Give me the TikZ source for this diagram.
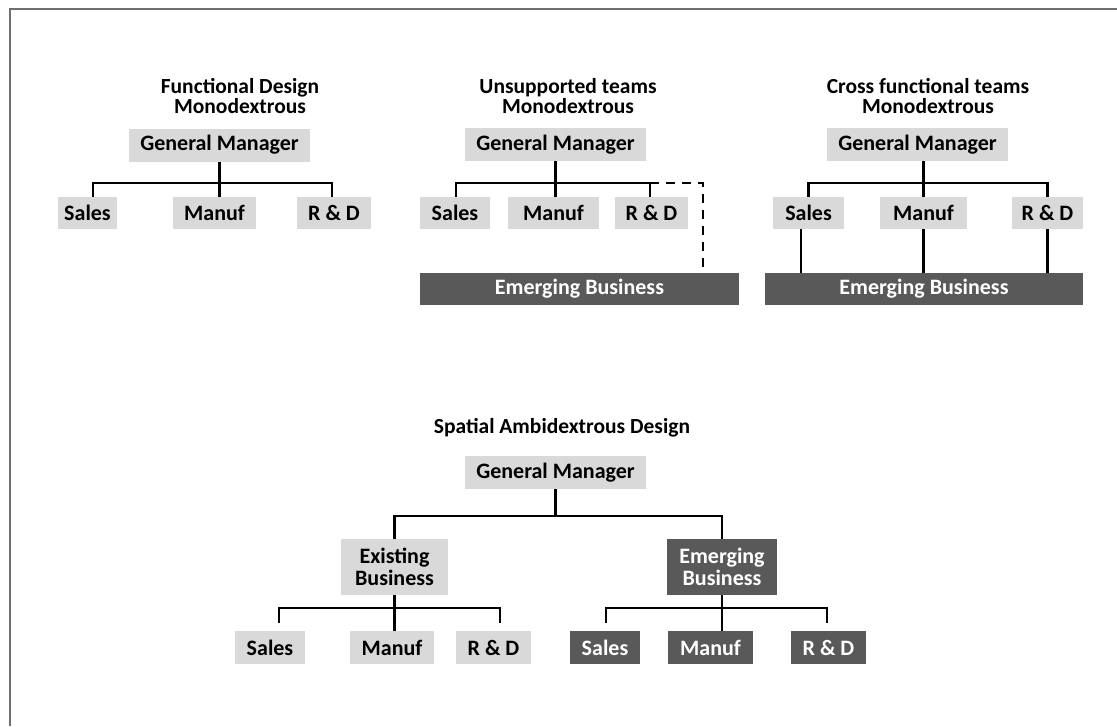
\documentclass[tikz,border=0pt]{standalone}
\usepackage{fontspec}
\setmainfont{Carlito}
\definecolor{lightbox}{RGB}{217,217,217}
\definecolor{darkbox}{RGB}{89,89,89}
\definecolor{framecol}{RGB}{110,110,110}
\begin{document}
\begin{tikzpicture}[x=1pt,y=-1pt,
  lbox/.style={fill=lightbox,inner sep=0pt,minimum height=32pt,font=\fontsize{22}{24}\selectfont\bfseries,text=black},
  dbox/.style={fill=darkbox,inner sep=0pt,minimum height=32pt,font=\fontsize{22}{24}\selectfont\bfseries,text=white},
  ttl/.style={align=center,inner sep=0pt,font=\fontsize{21.5}{20.5}\selectfont\bfseries},
  twoline/.style={align=center,font=\fontsize{22}{22}\selectfont\bfseries},
  conn/.style={line width=2.4pt,black},
  dconn/.style={line width=2.4pt,black,dash pattern=on 9pt off 7pt}]
\useasboundingbox (0,0) rectangle (1117,726);
% frame
\draw[framecol,line width=1.5pt] (10,726) -- (10,9) -- (1117,9);
% ---------- Panel 1
\node[ttl] (t1) at (240,96) {Functional Design\\Monodextrous};
\node[lbox,minimum width=181pt,minimum height=33pt] (gm1) at (219.5,145) {General Manager};
\node[lbox,minimum width=59pt] (s1) at (87.5,213) {Sales};
\node[lbox,minimum width=83pt] (m1) at (214.5,213) {Manuf};
\node[lbox,minimum width=74pt] (r1) at (334,213) {R \& D};
\coordinate (j1) at (219.5,183);
\draw[conn] (gm1.south) -- (gm1.south |- m1.north);
\draw[conn] ([xshift=5.5pt]s1.north) |- (j1) -| ([xshift=-2pt]r1.north);
% ---------- Panel 2
\node[ttl] (t2) at (568,96) {Unsupported teams\\Monodextrous};
\node[lbox,minimum width=181pt,minimum height=33pt] (gm2) at (555.5,144.5) {General Manager};
\node[lbox,minimum width=70pt] (s2) at (455,213) {Sales};
\node[lbox,minimum width=91pt] (m2) at (553.5,213) {Manuf};
\node[lbox,minimum width=73pt] (r2) at (651.5,213) {R \& D};
\node[dbox,minimum width=319pt] (eb2) at (579.5,289) {Emerging Business};
\coordinate (j2) at (555.5,183);
\coordinate (d2) at (703,183);
\draw[conn] (gm2.south) -- (gm2.south |- m2.north);
\draw[conn] ([xshift=1pt]s2.north) |- (j2) -| ([xshift=-1.5pt]r2.north);
\draw[dconn] ([xshift=-1.5pt]r2.north |- d2) -- (d2) -- (d2 |- eb2.north);
% ---------- Panel 3
\node[ttl] (t3) at (928,96) {Cross functional teams\\Monodextrous};
\node[lbox,minimum width=181pt,minimum height=33pt] (gm3) at (917.5,144.5) {General Manager};
\node[lbox,minimum width=71pt] (s3) at (808.5,213) {Sales};
\node[lbox,minimum width=87pt] (m3) at (923.5,213) {Manuf};
\node[lbox,minimum width=71pt] (r3) at (1047.5,213) {R \& D};
\node[dbox,minimum width=318pt] (eb3) at (924,289) {Emerging Business};
\coordinate (j3) at (923.5,183);
\draw[conn] (gm3.south -| m3.north) -- (m3.north);
\draw[conn] (s3.north) |- (j3) -| (r3.north);
\draw[conn] ([xshift=-7.5pt]s3.south) -- ([xshift=-7.5pt]s3.south |- eb3.north);
\draw[conn] (m3.south) -- (m3.south |- eb3.north);
\draw[conn] (r3.south) -- (r3.south |- eb3.north);
% ---------- Bottom panel
\node[ttl] (t4) at (562,428) {Spatial Ambidextrous Design};
\node[lbox,minimum width=181pt,minimum height=33pt] (gm4) at (555.5,472.5) {General Manager};
\node[lbox,minimum width=107pt,minimum height=56pt,twoline] (ex) at (394.5,567) {Existing\\Business};
\node[dbox,minimum width=110pt,minimum height=56pt,twoline] (em) at (722,567) {Emerging\\Business};
\coordinate (j4) at (555.5,516);
\draw[conn] (gm4.south) -- (j4);
\draw[conn] (ex.north) |- (j4) -| (em.north);
% existing subtree
\node[lbox,minimum width=70pt,minimum height=33pt] (s4) at (270,647.5) {Sales};
\node[lbox,minimum width=84pt,minimum height=33pt] (m4) at (392,647.5) {Manuf};
\node[lbox,minimum width=75pt,minimum height=33pt] (r4) at (493.5,647.5) {R \& D};
\coordinate (j5) at (394.5,608);
\draw[conn] (ex.south) -- (ex.south |- m4.north);
\draw[conn] ([xshift=9pt]s4.north) ++(0,-8) |- (j5) -| ([xshift=6.5pt,yshift=8pt]r4.north);
% emerging subtree
\node[dbox,minimum width=70pt,minimum height=33pt] (s5) at (605,647.5) {Sales};
\node[dbox,minimum width=85pt,minimum height=33pt] (m5) at (710.5,647.5) {Manuf};
\node[dbox,minimum width=75pt,minimum height=33pt] (r5) at (828.5,647.5) {R \& D};
\coordinate (j6) at (722,608);
\draw[conn] (em.south) -- (em.south |- m5.north);
\draw[conn] ([xshift=1pt]s5.north) ++(0,-8) |- (j6) -| ([xshift=-1.5pt,yshift=8pt]r5.north);
\end{tikzpicture}
\end{document}
